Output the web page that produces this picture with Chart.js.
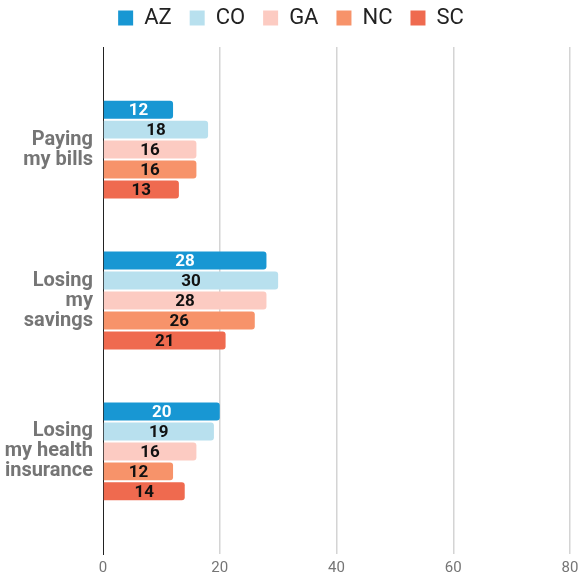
<!DOCTYPE html>
<html>
<head>
<meta charset="utf-8">
<script src="https://cdn.jsdelivr.net/npm/chart.js@4/dist/chart.umd.min.js"></script>
<style>
  html, body { margin: 0; padding: 0; background: #fff; }
  #wrap { width: 579px; height: 575px; position: relative; }
</style>
</head>
<body>
<div id="wrap"><canvas id="chart"></canvas></div>
<script>
/* concerns chart: AZ / CO / GA / NC / SC */

var categories = [['Paying', 'my bills'], ['Losing', 'my', 'savings'], ['Losing', 'my health', 'insurance']];
var states     = ['AZ', 'CO', 'GA', 'NC', 'SC'];
var azValues   = [12, 28, 20];
var coValues   = [18, 30, 19];
var gaValues   = [16, 28, 16];
var ncValues   = [16, 26, 12];
var scValues   = [13, 21, 14];
var xTicks     = [0, 20, 40, 60, 80];

var COLORS = ['#1897d3', '#b8e0ee', '#fccbc2', '#f7936a', '#ef6a4f'];
var LABEL_INK = ['#ffffff', '#111111', '#111111', '#111111', '#111111'];
var GREY = '#757575';

function toPoints(vals) {
  return vals.map(function(v, i) { return { x: v, y: i }; });
}

var seriesValues = [azValues, coValues, gaValues, ncValues, scValues];

/* value labels in the middle of each bar */
var barLabels = {
  id: 'barLabels',
  afterDatasetsDraw: function(chart) {
    var ctx = chart.ctx;
    ctx.save();
    ctx.font = 'bold 17px Roboto';
    ctx.textAlign = 'center';
    ctx.textBaseline = 'middle';
    chart.data.datasets.forEach(function(ds, di) {
      var meta = chart.getDatasetMeta(di);
      ctx.fillStyle = LABEL_INK[di];
      meta.data.forEach(function(bar, i) {
        ctx.fillText(String(seriesValues[di][i]), (bar.x + bar.base) / 2, bar.y + 1);
      });
    });
    ctx.restore();
  }
};

/* fixed legend block height, and nudge it right like the reference */
var legendSpace = {
  id: 'legendSpace',
  beforeInit: function(chart) {
    var fit = chart.legend.fit;
    chart.legend.fit = function() {
      fit.bind(chart.legend)();
      this.height = 58;
    };
  },
  afterLayout: function(chart) {
    chart.legend.left += 6;
    chart.legend.right += 6;
  }
};

new Chart(document.getElementById('chart'), {
  type: 'bar',
  data: {
    datasets: states.map(function(s, i) {
      return {
        label: s,
        data: toPoints(seriesValues[i]),
        backgroundColor: COLORS[i],
        borderRadius: 3,
        barPercentage: 0.9,
        categoryPercentage: 0.662
      };
    })
  },
  options: {
    indexAxis: 'y',
    responsive: true,
    maintainAspectRatio: false,
    animation: false,
    layout: { padding: { top: -11, right: 9, left: 0, bottom: 0 } },
    plugins: {
      legend: {
        position: 'top',
        labels: {
          boxWidth: 15,
          boxHeight: 15,
          padding: 18,
          color: '#222',
          font: { family: 'Roboto', size: 22 }
        }
      },
      tooltip: { enabled: false }
    },
    scales: {
      x: {
        type: 'linear',
        min: 0, max: 80,
        afterBuildTicks: function(axis) {
          axis.ticks = xTicks.map(function(v) { return { value: v }; });
        },
        afterFit: function(axis) {
          axis.height = 21;
          axis.paddingRight = 0;
          axis.paddingLeft = 0;
        },
        grid: {
          color: function(c) { return c.tick && c.tick.value === 0 ? 'rgba(0,0,0,0)' : '#d4d4d4'; },
          lineWidth: 1.5,
          drawTicks: false
        },
        border: { display: false },
        ticks: { color: GREY, padding: 5, font: { family: 'Roboto', size: 15 } }
      },
      y: {
        type: 'linear',
        reverse: true,
        offset: false,
        min: -0.68, max: 2.68,
        afterBuildTicks: function(axis) {
          axis.ticks = categories.map(function(c, i) { return { value: i }; });
        },
        afterFit: function(axis) {
          axis.width = 103;
          axis.paddingTop = 0;
          axis.paddingBottom = 0;
        },
        grid: { display: false, drawTicks: false, offset: false },
        border: { display: true, color: '#222', width: 1 },
        ticks: {
          color: GREY,
          padding: 10,
          font: { family: 'Roboto', size: 20, weight: 'bold', lineHeight: 1.0 },
          callback: function(v) { return categories[v] || ''; }
        }
      }
    }
  },
  plugins: [barLabels, legendSpace]
});
</script>
</body>
</html>
